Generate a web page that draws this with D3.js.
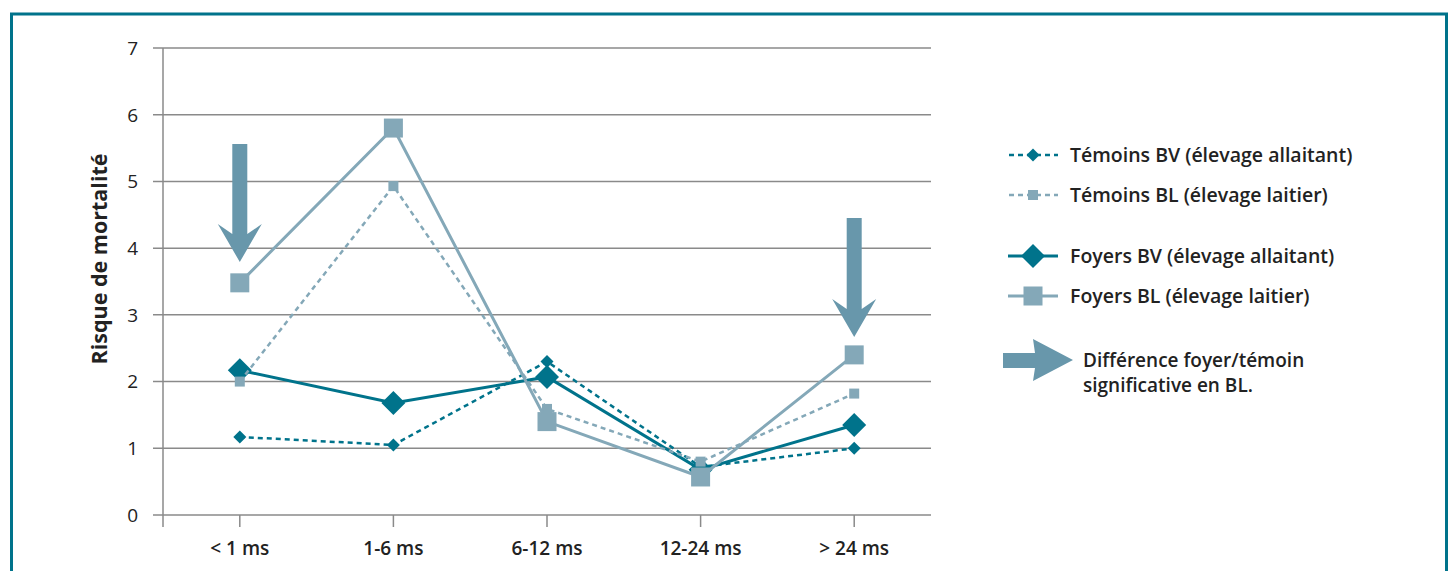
<!DOCTYPE html>
<html>
<head>
<meta charset="utf-8">
<script src="https://cdn.jsdelivr.net/npm/d3@7"></script>
<style>
  body { margin: 0; background: #fff; }
  text { font-family: "Open Sans", "Noto Sans", sans-serif; fill: #222; }
</style>
</head>
<body>
<script>
var categories = ["< 1 ms", "1-6 ms", "6-12 ms", "12-24 ms", "> 24 ms"];
var temoinsBV = [1.17, 1.05, 2.3, 0.72, 1.0];
var temoinsBL = [2.0, 4.93, 1.59, 0.8, 1.82];
var foyersBV = [2.17, 1.68, 2.07, 0.68, 1.35];
var foyersBL = [3.48, 5.8, 1.4, 0.57, 2.4];
var yTicks = [0, 1, 2, 3, 4, 5, 6, 7];
var arrowCats = ["< 1 ms", "> 24 ms"];

var dark = "#00738b", light = "#84a8b8", arrowCol = "#6897ab", grid = "#8a8a8a";

var width = 1454, height = 571;
var svg = d3.select("body").append("svg")
    .attr("width", width)
    .attr("height", height);

// frame
svg.append("rect")
    .attr("x", 11.5).attr("y", 14)
    .attr("width", 1435).attr("height", 600)
    .attr("fill", "none")
    .attr("stroke", dark)
    .attr("stroke-width", 3);

var x = d3.scaleBand()
    .domain(categories)
    .range([163, 931]);

var y = d3.scaleLinear()
    .domain([0, 7])
    .range([515, 48]);

var cx = function(c) { return x(c) + x.bandwidth() / 2; };

// grid lines + y ticks
svg.append("g")
    .selectAll("line")
    .data(yTicks)
    .enter()
    .append("line")
        .attr("x1", 153).attr("x2", 931)
        .attr("y1", function(d) { return y(d); })
        .attr("y2", function(d) { return y(d); })
        .attr("stroke", grid)
        .attr("stroke-width", 1.5);

svg.append("g")
    .selectAll("text")
    .data(yTicks)
    .enter()
    .append("text")
        .attr("x", 138)
        .attr("y", function(d) { return y(d); })
        .attr("dy", "0.36em")
        .attr("text-anchor", "end")
        .style("font-size", "19px")
        .text(function(d) { return d; });

// y axis line
svg.append("line")
    .attr("x1", 163).attr("x2", 163)
    .attr("y1", y(7)).attr("y2", 527)
    .attr("stroke", grid).attr("stroke-width", 1.5);

// x ticks and labels
svg.append("g")
    .selectAll("line")
    .data(categories)
    .enter()
    .append("line")
        .attr("x1", cx).attr("x2", cx)
        .attr("y1", y(0)).attr("y2", 527)
        .attr("stroke", grid).attr("stroke-width", 1.5);

svg.append("g")
    .selectAll("text")
    .data(categories)
    .enter()
    .append("text")
        .attr("x", cx)
        .attr("y", 555)
        .attr("text-anchor", "middle")
        .style("font-size", "19px")
        .style("font-weight", "600")
        .text(function(d) { return d; });

svg.append("text")
    .attr("transform", "translate(107," + 259 + ") rotate(-90)")
    .attr("text-anchor", "middle")
    .style("font-size", "21.5px")
    .style("font-weight", "700")
    .text("Risque de mortalité");

// arrows
function downArrow(g, xc, top, tip) {
    var sw = 7.5, hw = 22, hb = 38;
    var headTop = tip - hb;
    var notch = tip - hb + 10;
    g.append("path")
        .attr("d", "M" + (xc - sw) + "," + top +
            "L" + (xc + sw) + "," + top +
            "L" + (xc + sw) + "," + notch +
            "L" + (xc + hw) + "," + headTop +
            "L" + xc + "," + tip +
            "L" + (xc - hw) + "," + headTop +
            "L" + (xc - sw) + "," + notch + "Z")
        .attr("fill", arrowCol);
}
downArrow(svg, cx(arrowCats[0]), 144, 262);
downArrow(svg, cx(arrowCats[1]), 218, 337);

var line = d3.line()
    .x(function(d, i) { return cx(categories[i]); })
    .y(function(d) { return y(d); });

var series = [
    {name: "Foyers BV (élevage allaitant)", values: foyersBV, color: dark, dash: null, sw: 3, shape: "diamond", size: 12},
    {name: "Témoins BV (élevage allaitant)", values: temoinsBV, color: dark, dash: "5,4", sw: 2.5, shape: "diamond", size: 6.5},
    {name: "Témoins BL (élevage laitier)", values: temoinsBL, color: light, dash: "5,4", sw: 2.5, shape: "square", size: 5},
    {name: "Foyers BL (élevage laitier)", values: foyersBL, color: light, dash: null, sw: 3, shape: "square", size: 9.5}
];

function marker(g, shape, size, color, px, py) {
    if (shape === "diamond") {
        g.append("path")
            .attr("d", "M" + px + "," + (py - size) + "L" + (px + size) + "," + py +
                "L" + px + "," + (py + size) + "L" + (px - size) + "," + py + "Z")
            .attr("fill", color);
    } else {
        g.append("rect")
            .attr("x", px - size).attr("y", py - size)
            .attr("width", size * 2).attr("height", size * 2)
            .attr("fill", color);
    }
}

series.forEach(function(s) {
    var g = svg.append("g");
    g.append("path")
        .datum(s.values)
        .attr("d", line)
        .attr("fill", "none")
        .attr("stroke", s.color)
        .attr("stroke-width", s.sw)
        .attr("stroke-dasharray", s.dash);
    s.values.forEach(function(v, i) {
        marker(g, s.shape, s.size, s.color, cx(categories[i]), y(v));
    });
});

// legend
var legendOrder = [series[1], series[2], series[0], series[3]];
var legendY = [155, 195, 256, 296];
legendOrder.forEach(function(s, i) {
    var g = svg.append("g");
    var ly = legendY[i];
    g.append("line")
        .attr("x1", s.dash ? 1009 : 1008).attr("x2", 1058)
        .attr("y1", ly).attr("y2", ly)
        .attr("stroke", s.color)
        .attr("stroke-width", s.sw)
        .attr("stroke-dasharray", s.dash);
    marker(g, s.shape, s.size, s.color, 1033, ly);
    g.append("text")
        .attr("x", 1070).attr("y", ly)
        .attr("dy", "0.35em")
        .style("font-size", "19.5px")
        .style("font-weight", "600")
        .text(s.name);
});

svg.append("path")
    .attr("d", "M1003,353L1035,353L1033,339L1073,360L1033,381L1035,368L1003,368Z")
    .attr("fill", arrowCol);

svg.append("text")
    .attr("x", 1083).attr("y", 360)
    .attr("dy", "0.35em")
    .style("font-size", "19px")
    .style("font-weight", "600")
    .text("Différence foyer/témoin");
svg.append("text")
    .attr("x", 1083).attr("y", 385)
    .attr("dy", "0.35em")
    .style("font-size", "19px")
    .style("font-weight", "600")
    .text("significative en BL.");
</script>
</body>
</html>
